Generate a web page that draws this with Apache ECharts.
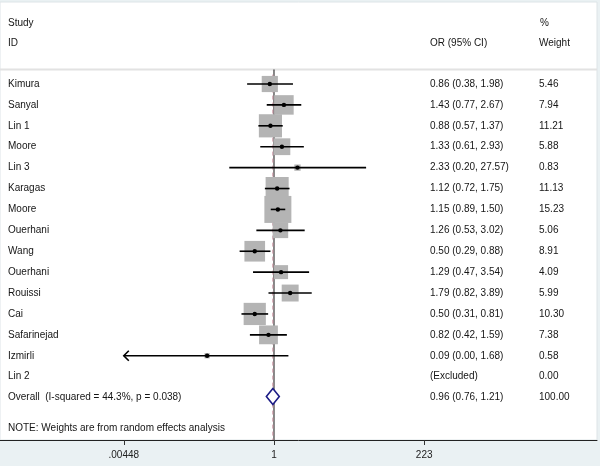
<!DOCTYPE html>
<html><head><meta charset="utf-8">
<script src="https://cdn.jsdelivr.net/npm/echarts@6/dist/echarts.min.js"></script>
<style>html,body{margin:0;padding:0;background:#eaf1f3}#c{width:600px;height:466px}</style>
</head><body><div id="c"></div>
<script>
// ---- data ----
const studies = ['Kimura','Sanyal','Lin 1','Moore','Lin 3','Karagas','Moore','Ouerhani','Wang','Ouerhani','Rouissi','Cai','Safarinejad','Izmirli','Lin 2'];
const oddsRatio = [0.86,1.43,0.88,1.33,2.33,1.12,1.15,1.26,0.50,1.29,1.79,0.50,0.82,0.09,null];
const ciLower   = [0.38,0.77,0.57,0.61,0.20,0.72,0.89,0.53,0.29,0.47,0.82,0.31,0.42,0.00,null];
const ciUpper   = [1.98,2.67,1.37,2.93,27.57,1.75,1.50,3.02,0.88,3.54,3.89,0.81,1.59,1.68,null];
const weights   = [5.46,7.94,11.21,5.88,0.83,11.13,15.23,5.06,8.91,4.09,5.99,10.30,7.38,0.58,0.00];
const overallLabel = 'Overall  (I-squared = 44.3%, p = 0.038)';
const overallOR = 0.96, overallLower = 0.76, overallUpper = 1.21, overallWeight = 100.00;
const noteText = 'NOTE: Weights are from random effects analysis';
const tickValues = [0.00448, 1, 223];
const tickLabels = ['.00448', '1', '223'];

// ---- helpers ----
const L = Math.log10;
const fmt = v => v.toFixed(2);
const ciStrings = oddsRatio.map((o, i) => o == null ? '(Excluded)' : `${fmt(o)} (${fmt(ciLower[i])}, ${fmt(ciUpper[i])})`);
const FONT = '10px "Liberation Sans", Arial, sans-serif';
const TXT = '#151515';
const nRows = studies.length;
const overallRow = nRows;          // row 15
const yMin = -3.923, yMax = 17.03;
const sepRow = -0.694;

// text items: [xCol, row, text]
const textItems = [
  [8, -2.919, 'Study'], [8, -1.962, 'ID'],
  [430, -1.962, 'OR (95% CI)'], [540, -2.919, '%'], [539, -1.962, 'Weight']
];
studies.forEach((s, i) => {
  textItems.push([8, i, s]);
  textItems.push([430, i, ciStrings[i]]);
  textItems.push([539, i, fmt(weights[i])]);
});
textItems.push([8, overallRow, overallLabel]);
textItems.push([430, overallRow, `${fmt(overallOR)} (${fmt(overallLower)}, ${fmt(overallUpper)})`]);
textItems.push([539, overallRow, fmt(overallWeight)]);
textItems.push([8, 16.48, noteText]);

const tickLogs = tickValues.map(L);
const xMinTick = tickValues[0];

const chart = echarts.init(document.getElementById('c'));
chart.setOption({
  animation: false,
  backgroundColor: '#eaf1f3',
  grid: { left: 0, right: 3, top: 2, bottom: 26, show: true, backgroundColor: '#fff', borderColor: '#dde4e7', borderWidth: 1 },
  xAxis: [
    {
      type: 'value', min: -4.2846, max: 5.051, position: 'bottom',
      splitLine: { show: false },
      axisLine: { show: true, onZero: false, lineStyle: { color: '#222', width: 1 } },
      axisTick: { show: true, customValues: tickLogs, length: 5, lineStyle: { color: '#333' } },
      axisLabel: {
        show: true, customValues: tickLogs, margin: 10, color: '#222', fontSize: 10,
        fontFamily: '"Liberation Sans", Arial, sans-serif',
        formatter: v => { const k = tickLogs.findIndex(t => Math.abs(t - v) < 1e-6); return k >= 0 ? tickLabels[k] : ''; }
      }
    },
    { type: 'value', min: 0, max: 597, show: false }
  ],
  yAxis: { type: 'value', min: yMin, max: yMax, inverse: true, show: false },
  series: [
    { type: 'line', xAxisIndex: 1, data: [[0, sepRow], [597, sepRow]], symbol: 'none', silent: true, z: 1,
      lineStyle: { color: '#e2e2e2', width: 2 } },
    { type: 'line', xAxisIndex: 0, data: [[0, sepRow], [0, yMax]], symbol: 'none', silent: true, z: 2,
      lineStyle: { color: '#111', width: 1 } },
    { type: 'line', xAxisIndex: 0, data: [[L(overallOR), -0.45], [L(overallOR), yMax]], symbol: 'none', silent: true, z: 2,
      lineStyle: { color: '#c48a9a', width: 1, type: [4, 3] } },
    {
      type: 'custom', xAxisIndex: 0, z: 3,
      data: studies.map((s, i) => [i, oddsRatio[i], ciLower[i], ciUpper[i], weights[i]]),
      renderItem: (params, api) => {
        const i = params.dataIndex;
        const o = oddsRatio[i];
        if (o == null) return null;
        const lo = ciLower[i], hi = ciUpper[i];
        const clipped = lo < xMinTick;
        const pc = api.coord([L(o), i]);
        const p0 = api.coord([L(clipped ? xMinTick : lo), i]);
        const p1 = api.coord([L(hi), i]);
        const side = 6.92 * Math.sqrt(weights[i]);
        const y = pc[1];
        const children = [
          { type: 'rect', shape: { x: pc[0] - side / 2, y: y - side / 2, width: side, height: side }, style: { fill: '#b4b4b4' } },
          { type: 'line', shape: { x1: p0[0], y1: y, x2: p1[0], y2: y }, style: { stroke: '#000', lineWidth: 1.6 } },
          { type: 'circle', shape: { cx: pc[0], cy: y, r: 2.2 }, style: { fill: '#000' } }
        ];
        if (clipped) {
          children.push({ type: 'polyline', shape: { points: [[p0[0] + 5, y - 5], [p0[0], y], [p0[0] + 5, y + 5]] },
            style: { stroke: '#000', lineWidth: 1.6, fill: null } });
        }
        return { type: 'group', children };
      }
    },
    {
      type: 'custom', xAxisIndex: 0, z: 4,
      data: [[overallRow, overallOR, overallLower, overallUpper]],
      renderItem: (params, api) => {
        const pc = api.coord([L(overallOR), overallRow]);
        const pl = api.coord([L(overallLower), overallRow]);
        const pr = api.coord([L(overallUpper), overallRow]);
        const y = pc[1] - 1, h = 8;
        return { type: 'polygon', shape: { points: [[pl[0], y], [pc[0], y - h], [pr[0], y], [pc[0], y + h]] },
          style: { fill: '#fff', stroke: '#1c1c86', lineWidth: 1.6 } };
      }
    },
    {
      type: 'custom', xAxisIndex: 1, z: 5,
      data: textItems.map(t => [t[0], t[1]]),
      renderItem: (params, api) => {
        const t = textItems[params.dataIndex];
        const p = api.coord([t[0], t[1]]);
        return { type: 'text', x: p[0], y: p[1],
          style: { text: t[2], fill: TXT, font: FONT, align: 'left', verticalAlign: 'middle' } };
      }
    }
  ]
});
</script></body></html>
